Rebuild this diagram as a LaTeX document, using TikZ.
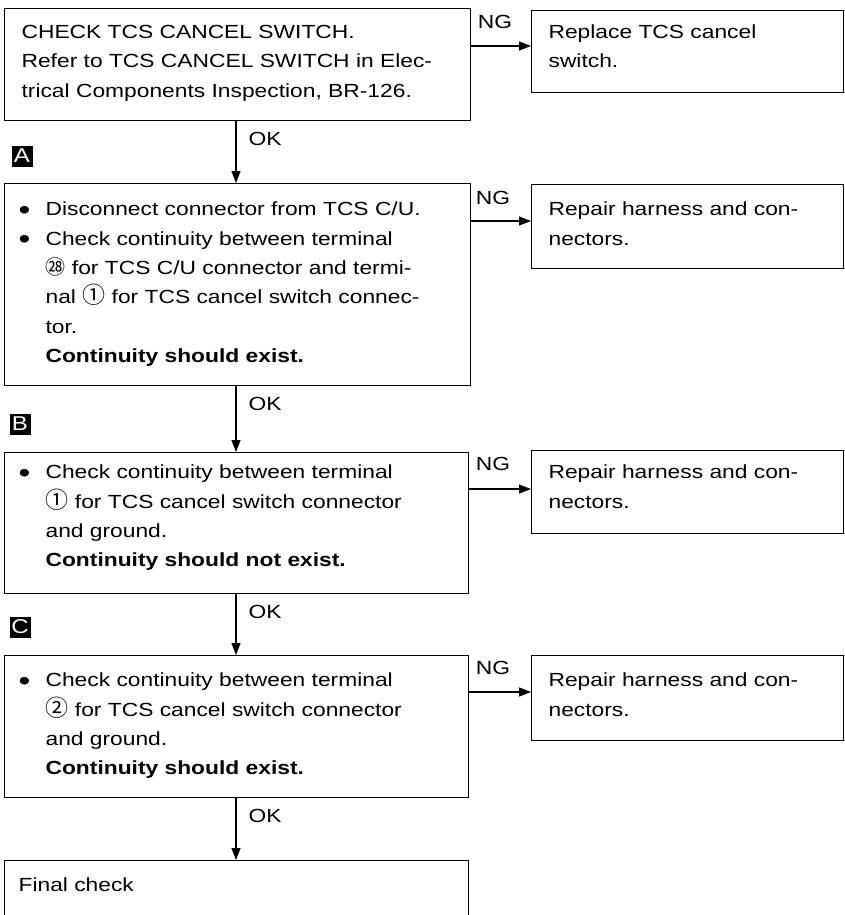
\documentclass[tikz,border=0pt]{standalone}
\usepackage{fontspec}
\setmainfont{Liberation Sans}[FakeStretch=1.2]
\newfontfamily\cjk{Noto Sans CJK JP}
\usetikzlibrary{arrows.meta}
\newcommand{\fs}{\fontsize{19}{29.4}\selectfont}
\newcommand{\st}{\rule{0pt}{14pt}}
\newcommand{\bul}{\makebox[27pt][l]{\raisebox{-3.5pt}{\fontsize{28}{28}\selectfont\textbullet}}}
\newcommand{\ind}{\hspace*{27pt}}
\newcommand{\cn}[2]{{\cjk\fontsize{#1}{#1}\selectfont #2}}
\begin{document}
\begin{tikzpicture}[x=1pt,y=-1pt,line width=1.2pt,
  box/.style={draw,rectangle,inner sep=0pt,anchor=north west},
  txt/.style={anchor=north west,inner sep=0pt,align=left,font=\fs},
  lbl/.style={inner sep=0pt,font=\fs},
  marker/.style={fill=black,text=white,inner sep=0pt,minimum width=21pt,minimum height=21pt,font=\fontsize{20}{20}\selectfont},
  arr/.style={-{Triangle[length=12pt,width=9pt]}}]
\useasboundingbox (0,0) rectangle (845,915);

% boxes
\node[box,minimum width=466pt,minimum height=112pt] (b1) at (4,8) {};
\node[box,minimum width=312pt,minimum height=82pt] (r1) at (531,10) {};
\node[box,minimum width=466pt,minimum height=202pt] (b2) at (4,183) {};
\node[box,minimum width=312pt,minimum height=84pt] (r2) at (531,184) {};
\node[box,minimum width=464pt,minimum height=141pt] (b3) at (4,452) {};
\node[box,minimum width=312pt,minimum height=83pt] (r3) at (531,450) {};
\node[box,minimum width=464pt,minimum height=142pt] (b4) at (4,655) {};
\node[box,minimum width=312pt,minimum height=85pt] (r4) at (531,655) {};
\node[box,minimum width=464pt,minimum height=80pt] (b5) at (4,860) {};

% texts
\node[txt] (t1) at (21,24) {\st CHECK TCS CANCEL SWITCH.\\Refer to TCS CANCEL SWITCH in Elec-\\trical Components Inspection, BR-126.};
\node[txt] (tr1) at (548,24) {\st Replace TCS cancel\\switch.};
\node[txt] (t2) at (18,201) {\st\bul Disconnect connector from TCS C/U.\\
\bul Check continuity between terminal\\
\ind\cn{20}{㉘} for TCS C/U connector and termi-\\
\ind nal \cn{23}{①} for TCS cancel switch connec-\\
\ind tor.\\
\ind\textbf{Continuity should exist.}};
\node[txt] (tr2) at (548,201) {\st Repair harness and con-\\nectors.};
\node[txt] (t3) at (18,464) {\st\bul Check continuity between terminal\\
\ind\cn{23}{①} for TCS cancel switch connector\\
\ind and ground.\\
\ind\textbf{Continuity should not exist.}};
\node[txt] (tr3) at (548,464) {\st Repair harness and con-\\nectors.};
\node[txt] (t4) at (18,672) {\st\bul Check continuity between terminal\\
\ind\cn{23}{②} for TCS cancel switch connector\\
\ind and ground.\\
\ind\textbf{Continuity should exist.}};
\node[txt] (tr4) at (548,672) {\st Repair harness and con-\\nectors.};
\node[txt] (t5) at (18,877) {\st Final check};

% markers
\node[marker] (mA) at (22,156) {A};
\node[marker] (mB) at (20,424) {B};
\node[marker] (mC) at (20,627) {C};

% NG connectors
\coordinate (y1) at (0,46);
\coordinate (y2) at (0,221);
\coordinate (y3) at (0,489);
\coordinate (y4) at (0,692);
\draw[arr] (b1.east |- y1) -- (r1.west |- y1);
\draw[arr] (b2.east |- y2) -- (r2.west |- y2);
\draw[arr] (b3.east |- y3) -- (r3.west |- y3);
\draw[arr] (b4.east |- y4) -- (r4.west |- y4);
\node[lbl] (ng1) at (495,22) {NG};
\node[lbl] (ng2) at (493,198) {NG};
\node[lbl] (ng3) at (493,464) {NG};
\node[lbl] (ng4) at (493,668) {NG};

% OK connectors
\coordinate (xo) at (236,0);
\draw[arr] (b1.south -| xo) -- (b2.north -| xo);
\draw[arr] (b2.south -| xo) -- (b3.north -| xo);
\draw[arr] (b3.south -| xo) -- (b4.north -| xo);
\draw[arr] (b4.south -| xo) -- (b5.north -| xo);
\node[lbl] (ok1) at (265,139) {OK};
\node[lbl] (ok2) at (265,404) {OK};
\node[lbl] (ok3) at (265,612) {OK};
\node[lbl] (ok4) at (265,816) {OK};
\end{tikzpicture}
\end{document}
